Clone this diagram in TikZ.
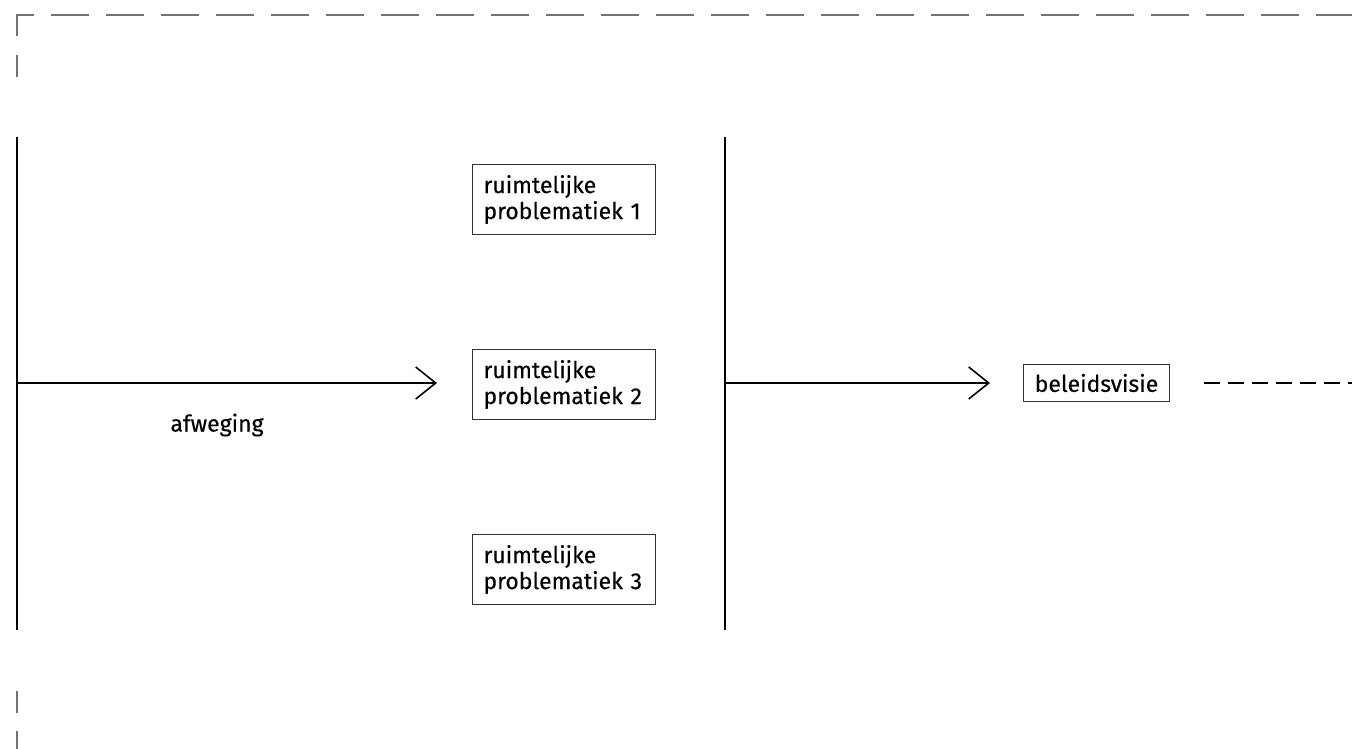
\documentclass[tikz,border=0pt]{standalone}
\usepackage{fontspec}
\setmainfont{Fira Sans}[FakeBold=0.3]
\usetikzlibrary{arrows.meta}
\begin{document}
\begin{tikzpicture}[x=1pt,y=-1pt,
  frame/.style={draw=black!55,line width=1.2pt},
  mainline/.style={draw=black,line width=1.8pt},
  flow/.style={mainline,-{Straight Barb[length=20pt,width=32pt,line width=1.6pt]}},
  probbox/.style={draw=black!80,line width=1pt,minimum width=183pt,minimum height=70pt,
    text width=161pt,align=left,inner xsep=11pt,font=\fontsize{23}{26}\selectfont,anchor=north west},
  smallbox/.style={draw=black!80,line width=1pt,minimum height=37pt,minimum width=146pt,inner xsep=8pt,
    font=\fontsize{23}{26}\selectfont},
  lbl/.style={font=\fontsize{23}{26}\selectfont}]
\useasboundingbox (0,0) rectangle (1352,748);
% dashed frame fragments
\draw[frame,dash pattern=on 38pt off 17pt] (17,36) -- (17,15) -- (1360,15);
\draw[frame] (17,55) -- (17,77);
\draw[frame] (17,691) -- (17,713);
\draw[frame] (17,731) -- (17,752);
% vertical lines
\coordinate (ltop) at (17,137);
\coordinate (lbot) at (17,630);
\coordinate (mtop) at (725,137);
\coordinate (mbot) at (725,630);
\draw[mainline] (ltop) -- (lbot);
\draw[mainline] (mtop) -- (mbot);
% boxes
\node[probbox] (p1) at (472,164) {ruimtelijke\\problematiek 1};
\node[probbox] (p2) at (472,349) {ruimtelijke\\problematiek 2};
\node[probbox] (p3) at (472,534) {ruimtelijke\\problematiek 3};
\node[smallbox,anchor=west] (bv) at (1023,383) {beleidsvisie};
% arrows
\coordinate (a1s) at (17,383);
\coordinate (a1e) at (437,383);
\coordinate (a2s) at (725,383);
\coordinate (a2e) at (990,383);
\draw[flow] (a1s) -- (a1e);
\draw[flow] (a2s) -- (a2e);
\node[lbl] (afw) at (217,425) {afweging};
% dashed continuation
\coordinate (dend) at (1356,383);
\draw[mainline,dash pattern=on 16pt off 8pt] ([xshift=34pt]bv.east) -- (dend);
\end{tikzpicture}
\end{document}
